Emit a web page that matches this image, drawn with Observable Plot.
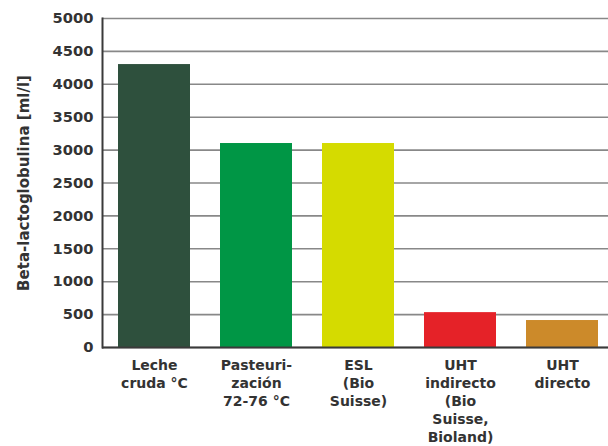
<!DOCTYPE html>
<html>
<head>
<meta charset="utf-8">
<script src="https://cdn.jsdelivr.net/npm/d3@7"></script>
<script src="https://cdn.jsdelivr.net/npm/@observablehq/plot@0.6"></script>
<style>
  html, body { margin: 0; padding: 0; background: #fff; }
  #chart svg { display: block; }
</style>
</head>
<body>
<div id="chart"></div>
<script>
const categories = [
  "Leche\ncruda °C",
  "Pasteuri-\nzación\n72-76 °C",
  "ESL\n(Bio\nSuisse)",
  "UHT\nindirecto\n(Bio\nSuisse,\nBioland)",
  "UHT\ndirecto"
];
const values = [4300, 3100, 3100, 530, 410];
const colors = ["#2e503d", "#009645", "#d5db00", "#e52228", "#cc8a2a"];
const yTicks = [0, 500, 1000, 1500, 2000, 2500, 3000, 3500, 4000, 4500, 5000];

const data = categories.map((c, i) => ({cat: c, value: values[i], color: colors[i]}));

const font = "'DejaVu Sans', 'Liberation Sans', Arial, sans-serif";

const chart = Plot.plot({
  width: 608,
  height: 446,
  marginTop: 18,
  marginBottom: 99,
  marginLeft: 102,
  marginRight: 0,
  style: {fontFamily: font, color: "#333", background: "#fff"},
  x: {domain: categories, range: [101, 615], paddingInner: 0.29, paddingOuter: 0.145, label: null},
  y: {domain: [0, 5000], ticks: yTicks, label: null},
  marks: [
    Plot.gridY(yTicks, {stroke: "#888", strokeOpacity: 1, strokeWidth: 1.6}),
    Plot.barY(data, {x: "cat", y: "value", fill: "color"}),
    Plot.ruleY([0], {stroke: "#3a3a3a", strokeWidth: 2}),
    Plot.frame({anchor: "left", stroke: "#3a3a3a", strokeWidth: 2}),
    Plot.axisY(yTicks, {tickSize: 0, tickPadding: 9, fontSize: 14.7, fontWeight: "bold", fill: "#333", tickFormat: d => String(d), label: null}),
    Plot.axisX({tickSize: 0, tickPadding: 9.5, fontSize: 14, fontWeight: "bold", fill: "#333", lineHeight: 1.29, label: null}),
    Plot.text(["Beta-lactoglobulina [ml/l]"], {frameAnchor: "left", dx: -78, rotate: -90, textAnchor: "middle", fontSize: 15, fontWeight: "bold", fill: "#333"})
  ]
});
document.getElementById("chart").appendChild(chart);
</script>
</body>
</html>
